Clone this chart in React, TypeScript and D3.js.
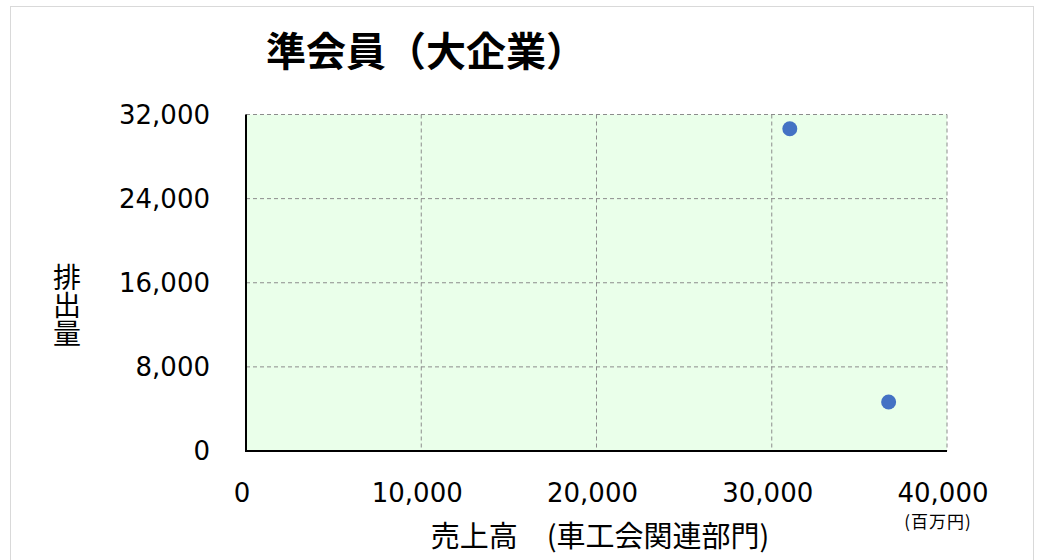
import React from "react";
import * as d3 from "d3";

const title = "準会員（大企業）";
const xLabel = "売上高　(車工会関連部門)";
const yLabel = "排出量";
const unitLabel = "(百万円)";
const xTicks = [0, 10000, 20000, 30000, 40000];
const yTicks = [0, 8000, 16000, 24000, 32000];
const salesValues = [31030, 36670];
const emissionValues = [30640, 4660];

const W = 1038;
const H = 560;
const plot = { left: 246, right: 947, top: 114.5, bottom: 451 };

export default function App() {
  const x = d3.scaleLinear().domain([0, 40000]).range([plot.left, plot.right]);
  const y = d3.scaleLinear().domain([0, 32000]).range([plot.bottom, plot.top]);
  const fmt = d3.format(",");
  const jp = "'Noto Sans CJK JP', sans-serif";
  const num = "'DejaVu Sans', Verdana, sans-serif";
  return (
    <svg width={W} height={H} style={{ position: "absolute", left: 0, top: 0 }}>
      <rect x={0} y={0} width={W} height={H} fill="#ffffff" />
      <rect x={10.5} y={6.5} width={1023} height={600} fill="none" stroke="#d9d9d9" strokeWidth={1} />
      <text x={426} y={66} textAnchor="middle" fontFamily={jp} fontWeight="bold" fontSize={40} fill="#000">
        {title}
      </text>
      <rect x={plot.left} y={plot.top} width={plot.right - plot.left} height={plot.bottom - plot.top} fill="#eaffea" />
      {xTicks.slice(1).map((t) => (
        <line key={"gx" + t} x1={x(t)} x2={x(t)} y1={plot.top} y2={plot.bottom} stroke="#8c8c8c" strokeWidth={1} strokeDasharray="4,3" />
      ))}
      {yTicks.slice(1).map((t) => (
        <line key={"gy" + t} x1={plot.left} x2={plot.right} y1={y(t)} y2={y(t)} stroke="#8c8c8c" strokeWidth={1} strokeDasharray="4,3" />
      ))}
      <line x1={plot.left} x2={plot.left} y1={plot.top} y2={plot.bottom + 1} stroke="#000" strokeWidth={2} />
      <line x1={plot.left - 1} x2={plot.right} y1={plot.bottom} y2={plot.bottom} stroke="#000" strokeWidth={2} />
      {salesValues.map((v, i) => (
        <circle key={"p" + i} cx={x(v)} cy={y(emissionValues[i])} r={7.5} fill="#4472c4" />
      ))}
      {yTicks.map((t) => (
        <text key={"ty" + t} x={210} y={y(t)} dy="0.36em" textAnchor="end" fontFamily={num} fontSize={26} fill="#000">
          {fmt(t)}
        </text>
      ))}
      {xTicks.map((t) => (
        <text key={"tx" + t} x={x(t) - 4} y={502} textAnchor="middle" fontFamily={num} fontSize={26} fill="#000">
          {fmt(t)}
        </text>
      ))}
      <text x={938} y={528} textAnchor="middle" fontFamily={jp} fontSize={17} letterSpacing={1} fill="#000">
        {unitLabel}
      </text>
      <text x={600} y={547} textAnchor="middle" fontFamily={jp} fontSize={29} fill="#000">
        {xLabel}
      </text>
      <text x={67} y={305} textAnchor="middle" fontFamily={jp} fontSize={28} fill="#000" style={{ writingMode: "vertical-rl" }}>
        {yLabel}
      </text>
    </svg>
  );
}
